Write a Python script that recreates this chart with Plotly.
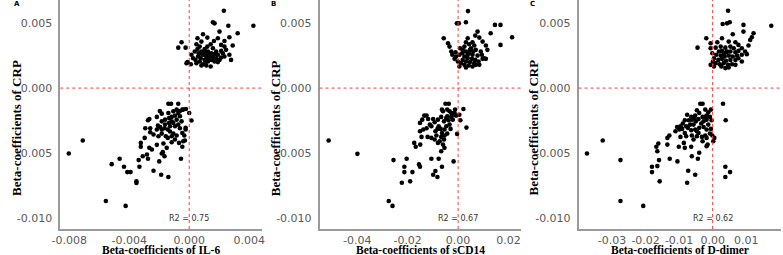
import plotly.graph_objects as go

# ---------------- data (beta coefficients: exposure, CRP) ----------------
il6_points = [
    (-0.00803, -0.00501), (-0.00710, -0.00402), (-0.00556, -0.00865), (-0.00424, -0.00903),
    (-0.00517, -0.00583), (-0.00464, -0.00542), (-0.00435, -0.00603), (-0.00413, -0.00644),
    (-0.00391, -0.00644), (-0.00352, -0.00715), (-0.00352, -0.00728), (-0.00337, -0.00552),
    (-0.00332, -0.00603), (-0.00310, -0.00522), (-0.00275, -0.00542), (-0.00238, -0.00634),
    (-0.00187, -0.00664), (-0.00139, -0.00682), (-0.00200, -0.00562), (-0.00176, -0.00491),
    (-0.00165, -0.00522), (-0.00055, -0.00542), (0.00015, -0.00249), (0.00000, -0.00191),
    (-0.00046, -0.00450), (-0.00029, -0.00402), (-0.00024, -0.00318), (-0.00139, -0.00120),
    (-0.00121, -0.00120), (-0.00073, -0.00120), (-0.00196, -0.00176), (-0.00183, -0.00196),
    (-0.00084, -0.00165), (-0.00062, -0.00176), (-0.00040, -0.00165), (-0.00022, -0.00160),
    (-0.00275, -0.00247), (-0.00266, -0.00237), (-0.00216, -0.00221), (-0.00139, -0.00191),
    (-0.00134, -0.00229), (-0.00117, -0.00221), (-0.00095, -0.00211), (-0.00117, -0.00255),
    (-0.00134, -0.00267), (-0.00161, -0.00242), (-0.00209, -0.00288), (-0.00194, -0.00298),
    (-0.00183, -0.00318), (-0.00165, -0.00308), (-0.00143, -0.00318), (-0.00128, -0.00333),
    (-0.00106, -0.00349), (-0.00084, -0.00364), (-0.00095, -0.00394), (-0.00117, -0.00369),
    (-0.00156, -0.00369), (-0.00183, -0.00349), (-0.00216, -0.00318), (-0.00260, -0.00308),
    (-0.00293, -0.00308), (-0.00260, -0.00338), (-0.00297, -0.00382), (-0.00323, -0.00420),
    (-0.00323, -0.00450), (-0.00266, -0.00458), (-0.00249, -0.00471), (-0.00216, -0.00435),
    (-0.00172, -0.00425), (-0.00117, -0.00415), (-0.00068, -0.00420), (-0.00040, -0.00407),
    (-0.00062, -0.00308), (-0.00073, -0.00280), (-0.00051, -0.00255), (-0.00024, -0.00305),
    (-0.00046, -0.00344), (-0.00033, -0.00364), (-0.00095, -0.00293), (-0.00084, -0.00242),
    (-0.00062, -0.00216), (-0.00161, -0.00280), (-0.00183, -0.00255), (-0.00238, -0.00356),
    (-0.00205, -0.00369), (-0.00282, -0.00509), (-0.00150, -0.00458), (-0.00183, -0.00501),
    (-0.00046, -0.00165), (-0.00106, -0.00178), (-0.00073, -0.00191), (-0.00143, -0.00382),
    (-0.00128, -0.00293), (-0.00106, -0.00267),
    (0.00231, 0.00593), (0.00158, 0.00504), (0.00169, 0.00496), (0.00261, 0.00478),
    (0.00428, 0.00478), (0.00202, 0.00433), (0.00323, 0.00420), (0.00268, 0.00389),
    (0.00092, 0.00412), (0.00121, 0.00387), (0.00055, 0.00382), (0.00191, 0.00382),
    (0.00235, 0.00361), (-0.00051, 0.00351), (-0.00073, 0.00310), (-0.00024, 0.00310),
    (0.00048, 0.00336), (0.00070, 0.00318), (0.00143, 0.00336), (0.00213, 0.00331),
    (0.00290, 0.00326), (0.00037, 0.00280), (0.00081, 0.00280), (0.00103, 0.00300),
    (0.00125, 0.00280), (0.00158, 0.00305), (0.00180, 0.00280), (0.00213, 0.00285),
    (0.00246, 0.00293), (0.00268, 0.00255), (0.00235, 0.00242), (0.00279, 0.00216),
    (0.00015, 0.00255), (0.00026, 0.00229), (0.00059, 0.00242), (0.00092, 0.00255),
    (0.00114, 0.00242), (0.00136, 0.00255), (0.00158, 0.00242), (0.00191, 0.00255),
    (0.00103, 0.00216), (0.00125, 0.00204), (0.00147, 0.00216), (0.00169, 0.00204),
    (0.00202, 0.00216), (0.00070, 0.00204), (0.00048, 0.00191), (0.00092, 0.00183),
    (0.00114, 0.00173), (0.00143, 0.00165), (0.00077, 0.00229), (-0.00018, 0.00191),
    (0.00011, 0.00183), (-0.00011, 0.00199), (0.00213, 0.00234), (0.00180, 0.00229),
    (0.00130, 0.00229), (0.00099, 0.00275), (0.00147, 0.00267), (0.00169, 0.00260),
    (0.00055, 0.00300), (0.00235, 0.00318), (0.00121, 0.00318), (0.00081, 0.00356),
    (0.00165, 0.00361), (0.00086, 0.00260), (0.00121, 0.00260), (0.00143, 0.00234),
    (0.00165, 0.00224), (0.00110, 0.00199), (0.00081, 0.00173), (0.00191, 0.00199),
    (0.00224, 0.00267), (0.00064, 0.00267), (0.00042, 0.00216),
]

scd14_points = [
    (-0.0513, -0.00402), (-0.0399, -0.00504), (-0.0275, -0.00865), (-0.0260, -0.00903),
    (-0.0256, -0.00552), (-0.0213, -0.00603), (-0.0213, -0.00644), (-0.0204, -0.00542),
    (-0.0181, -0.00644), (-0.0190, -0.00715), (-0.0223, -0.00725), (-0.0155, -0.00585),
    (-0.0151, -0.00603), (-0.0099, -0.00664), (-0.0082, -0.00682), (-0.0090, -0.00636),
    (-0.0064, -0.00603), (-0.0077, -0.00542), (-0.0106, -0.00542), (-0.0018, -0.00562),
    (-0.0054, -0.00458), (-0.0067, -0.00484), (-0.0043, -0.00349), (-0.0004, -0.00351),
    (0.0033, -0.00303), (0.0009, -0.00247), (0.0021, -0.00160), (-0.0050, -0.00120),
    (-0.0037, -0.00120), (-0.0174, -0.00420), (-0.0168, -0.00450), (-0.0150, -0.00433),
    (-0.0151, -0.00331), (-0.0134, -0.00211), (-0.0125, -0.00211), (-0.0142, -0.00242),
    (-0.0151, -0.00267), (-0.0119, -0.00237), (-0.0099, -0.00237), (-0.0106, -0.00293),
    (-0.0125, -0.00308), (-0.0112, -0.00280), (-0.0138, -0.00318), (-0.0145, -0.00374),
    (-0.0121, -0.00374), (-0.0106, -0.00382), (-0.0093, -0.00394), (-0.0090, -0.00331),
    (-0.0082, -0.00313), (-0.0077, -0.00293), (-0.0069, -0.00313), (-0.0064, -0.00344),
    (-0.0067, -0.00374), (-0.0073, -0.00407), (-0.0056, -0.00394), (-0.0060, -0.00433),
    (-0.0080, -0.00420), (-0.0080, -0.00242), (-0.0067, -0.00221), (-0.0056, -0.00255),
    (-0.0047, -0.00229), (-0.0060, -0.00178), (-0.0064, -0.00165), (-0.0043, -0.00165),
    (-0.0034, -0.00178), (-0.0027, -0.00191), (-0.0021, -0.00204), (-0.0014, -0.00191),
    (-0.0008, -0.00211), (-0.0027, -0.00221), (-0.0038, -0.00247), (-0.0021, -0.00242),
    (-0.0034, -0.00280), (-0.0047, -0.00293), (-0.0054, -0.00318), (-0.0030, -0.00313),
    (0.0005, -0.00204), (-0.0012, -0.00165), (-0.0093, -0.00262), (-0.0086, -0.00364),
    (-0.0054, -0.00364), (-0.0043, -0.00216),
    (0.0039, 0.00590), (-0.0005, 0.00496), (0.0003, 0.00496), (0.0031, 0.00504),
    (0.0146, 0.00484), (0.0168, 0.00484), (0.0214, 0.00389), (0.0129, 0.00420),
    (0.0168, 0.00331), (-0.0057, 0.00382), (-0.0040, 0.00344), (-0.0034, 0.00318),
    (-0.0027, 0.00280), (-0.0010, 0.00275), (0.0077, 0.00433), (0.0068, 0.00402),
    (0.0084, 0.00387), (0.0038, 0.00382), (0.0097, 0.00356), (0.0110, 0.00326),
    (0.0116, 0.00293), (0.0103, 0.00229), (0.0110, 0.00224), (0.0081, 0.00204),
    (0.0084, 0.00178), (0.0031, 0.00351), (0.0044, 0.00336), (0.0057, 0.00351),
    (0.0064, 0.00326), (0.0025, 0.00318), (0.0008, 0.00305), (0.0051, 0.00305),
    (0.0070, 0.00293), (0.0090, 0.00280), (0.0031, 0.00280), (0.0016, 0.00267),
    (0.0044, 0.00267), (0.0057, 0.00255), (0.0077, 0.00249), (0.0094, 0.00255),
    (-0.0008, 0.00242), (0.0005, 0.00255), (0.0025, 0.00242), (0.0038, 0.00229),
    (0.0055, 0.00224), (0.0068, 0.00216), (0.0018, 0.00216), (0.0031, 0.00204),
    (0.0047, 0.00199), (0.0064, 0.00191), (0.0012, 0.00191), (0.0025, 0.00178),
    (0.0042, 0.00173), (0.0057, 0.00165), (-0.0001, 0.00204), (-0.0014, 0.00224),
    (-0.0023, 0.00255), (0.0005, 0.00165), (0.0031, 0.00158), (0.0070, 0.00178),
    (0.0097, 0.00224), (0.0047, 0.00293), (0.0060, 0.00280), (0.0038, 0.00255),
    (0.0018, 0.00293),
]

ddimer_points = [
    (-0.0375, -0.00501), (-0.0328, -0.00402), (-0.0275, -0.00552), (-0.0275, -0.00865),
    (-0.0207, -0.00903), (-0.0181, -0.00603), (-0.0181, -0.00644), (-0.0165, -0.00598),
    (-0.0160, -0.00552), (-0.0158, -0.00715), (-0.0165, -0.00484), (-0.0168, -0.00450),
    (-0.0162, -0.00425), (-0.0128, -0.00542), (-0.0105, -0.00562), (-0.0073, -0.00634),
    (-0.0076, -0.00725), (-0.0052, -0.00664), (-0.0062, -0.00522), (-0.0044, -0.00542),
    (-0.0040, -0.00496), (-0.0135, -0.00382), (-0.0129, -0.00364), (-0.0135, -0.00433),
    (-0.0101, -0.00450), (-0.0083, -0.00458), (-0.0064, -0.00450), (-0.0018, -0.00445),
    (-0.0015, -0.00433), (-0.0001, -0.00364), (0.0002, -0.00407), (0.0005, -0.00382),
    (0.0031, -0.00120), (0.0039, -0.00247), (0.0038, -0.00603), (0.0038, -0.00682),
    (0.0052, -0.00644), (-0.0037, -0.00120), (-0.0030, -0.00120), (-0.0047, -0.00170),
    (-0.0022, -0.00165), (-0.0005, -0.00165), (-0.0013, -0.00186), (-0.0018, -0.00211),
    (-0.0040, -0.00191), (-0.0052, -0.00211), (-0.0030, -0.00221), (-0.0062, -0.00242),
    (-0.0076, -0.00204), (-0.0071, -0.00247), (-0.0083, -0.00247), (-0.0089, -0.00272),
    (-0.0096, -0.00293), (-0.0106, -0.00298), (-0.0099, -0.00318), (-0.0091, -0.00313),
    (-0.0079, -0.00293), (-0.0067, -0.00280), (-0.0057, -0.00280), (-0.0050, -0.00255),
    (-0.0042, -0.00237), (-0.0027, -0.00255), (-0.0018, -0.00242), (-0.0008, -0.00221),
    (-0.0003, -0.00247), (-0.0013, -0.00280), (-0.0027, -0.00298), (-0.0040, -0.00305),
    (-0.0052, -0.00318), (-0.0064, -0.00323), (-0.0074, -0.00305), (-0.0083, -0.00344),
    (-0.0096, -0.00374), (-0.0079, -0.00369), (-0.0062, -0.00364), (-0.0047, -0.00369),
    (-0.0032, -0.00374), (-0.0022, -0.00364), (-0.0008, -0.00349), (-0.0005, -0.00313),
    (-0.0018, -0.00318), (-0.0042, -0.00344), (-0.0057, -0.00394), (-0.0030, -0.00407),
    (-0.0018, -0.00382), (-0.0111, -0.00331), (-0.0086, -0.00420), (-0.0047, -0.00331),
    (-0.0034, -0.00272), (-0.0022, -0.00221), (-0.0054, -0.00229), (-0.0064, -0.00221),
    (0.0046, 0.00593), (0.0030, 0.00491), (0.0043, 0.00496), (0.0051, 0.00504),
    (0.0092, 0.00484), (0.0175, 0.00478), (0.0092, 0.00433), (0.0122, 0.00420),
    (0.0117, 0.00389), (0.0112, 0.00369), (0.0060, 0.00412), (-0.0019, 0.00382),
    (-0.0045, 0.00310), (-0.0006, 0.00344), (-0.0006, 0.00305), (0.0028, 0.00382),
    (0.0014, 0.00351), (0.0048, 0.00356), (0.0068, 0.00351), (0.0077, 0.00331),
    (0.0107, 0.00326), (0.0087, 0.00305), (0.0097, 0.00280), (0.0102, 0.00260),
    (0.0087, 0.00255), (0.0077, 0.00229), (0.0087, 0.00204), (0.0068, 0.00216),
    (0.0009, 0.00310), (0.0024, 0.00318), (0.0038, 0.00310), (0.0053, 0.00318),
    (0.0063, 0.00305), (0.0019, 0.00280), (0.0028, 0.00285), (0.0040, 0.00275),
    (0.0053, 0.00280), (0.0068, 0.00275), (0.0077, 0.00285), (-0.0001, 0.00267),
    (0.0011, 0.00255), (0.0024, 0.00249), (0.0036, 0.00242), (0.0048, 0.00249),
    (0.0060, 0.00242), (0.0073, 0.00249), (0.0004, 0.00229), (0.0017, 0.00216),
    (0.0028, 0.00224), (0.0040, 0.00209), (0.0053, 0.00216), (0.0009, 0.00191),
    (0.0021, 0.00183), (0.0033, 0.00191), (0.0046, 0.00178), (0.0058, 0.00183),
    (0.0068, 0.00178), (0.0001, 0.00204), (-0.0006, 0.00178), (0.0004, 0.00165),
    (0.0038, 0.00153), (0.0048, 0.00158), (0.0026, 0.00165), (0.0043, 0.00280),
    (0.0033, 0.00255),
]

exposures = ["IL-6", "sCD14", "D-dimer"]
r2_labels = ["R2 = 0.75", "R2 = 0.67", "R2 = 0.62"]
panel_letters = ["A", "B", "C"]

x_tickvals = [[-0.008, -0.004, 0.0, 0.004], [-0.04, -0.02, 0.0, 0.02],
              [-0.03, -0.02, -0.01, 0.0, 0.01]]
x_ticktext = [["-0.008", "-0.004", "0.000", "0.004"], ["-0.04", "-0.02", "0.00", "0.02"],
              ["-0.03", "-0.02", "-0.01", "0.00", "0.01"]]
x_ranges = [[-0.0086, 0.00488], [-0.0549, 0.0250], [-0.0400, 0.0204]]
y_tickvals = [-0.010, -0.005, 0.0, 0.005]
y_ticktext = ["-0.010", "-0.005", "0.000", "0.005"]
y_range = [-0.0108, 0.00675]

# ---------------- layout geometry ----------------
W, H = 783, 255
x_domains = [[52 / W, 257 / W], [315 / W, 519.5 / W], [577.7 / W, 1.0]]
y_domain = [26 / H, 1.0]
ytitle_x = [7 / W, 270 / W, 531 / W]
letter_x = [3 / W, 264 / W, 526 / W]

TICK_FONT = dict(family="DejaVu Sans", size=11, color="#5a5a5a")
AXIS_COLOR = "#9a9a9a"

fig = go.Figure()
all_points = [il6_points, scd14_points, ddimer_points]

for i, pts in enumerate(all_points):
    xs = [p[0] for p in pts]
    ys = [p[1] for p in pts]
    suffix = "" if i == 0 else str(i + 1)
    fig.add_trace(go.Scatter(
        x=xs, y=ys, mode="markers",
        marker=dict(color="black", size=4.6, line=dict(width=0)),
        xaxis="x" + suffix, yaxis="y" + suffix, showlegend=False,
        hoverinfo="skip",
    ))
    xa = dict(
        domain=x_domains[i], range=x_ranges[i], anchor="y" + suffix,
        tickvals=x_tickvals[i], ticktext=x_ticktext[i], tickfont=TICK_FONT,
        showgrid=False, zeroline=False, showline=True, linecolor=AXIS_COLOR, linewidth=1.5,
        ticks="",
    )
    ya = dict(
        domain=y_domain, range=y_range, anchor="x" + suffix,
        tickvals=y_tickvals, ticktext=y_ticktext, tickfont=TICK_FONT,
        showgrid=False, zeroline=False, showline=True, linecolor=AXIS_COLOR, linewidth=1.5,
        ticks="outside", ticklen=4, tickcolor="rgba(0,0,0,0)",
    )
    fig.layout["xaxis" + suffix] = xa
    fig.layout["yaxis" + suffix] = ya

    xref = "x" + suffix
    yref = "y" + suffix
    # dashed reference lines
    fig.add_shape(type="line", xref=xref, yref=yref + " domain", x0=0, x1=0, y0=0, y1=1,
                  line=dict(color="#ff3b3b", width=1, dash="3px,3px"))
    fig.add_shape(type="line", xref=xref + " domain", yref=yref, x0=0, x1=1, y0=0, y1=0,
                  line=dict(color="#ff3b3b", width=1, dash="3px,3px"))
    # R2 label
    fig.add_annotation(x=0, y=-0.010, xref=xref, yref=yref, text=r2_labels[i],
                       showarrow=False, font=dict(family="DejaVu Sans", size=8, color="#333333"))
    # x title
    xd = x_domains[i]
    fig.add_annotation(x=(xd[0] + xd[1]) / 2, y=1 - 250 / H, xref="paper", yref="paper",
                       text="<b>Beta-coefficients of " + exposures[i] + "</b>", showarrow=False,
                       font=dict(family="Liberation Serif", size=11.5, color="black"),
                       xanchor="center", yanchor="middle")
    # y title
    fig.add_annotation(x=ytitle_x[i], y=1 - 128 / H, xref="paper", yref="paper",
                       text="<b>Beta-coefficients of CRP</b>", textangle=-90, showarrow=False,
                       font=dict(family="Liberation Serif", size=13, color="black"),
                       xanchor="center", yanchor="middle")
    # panel letter
    fig.add_annotation(x=letter_x[i], y=1 - 4 / H, xref="paper", yref="paper",
                       text="<b>" + panel_letters[i] + "</b>", showarrow=False,
                       font=dict(family="DejaVu Sans", size=7, color="black"),
                       xanchor="left", yanchor="middle")

fig.update_layout(
    width=W, height=H, margin=dict(l=0, r=0, t=0, b=0),
    paper_bgcolor="white", plot_bgcolor="white",
)

fig.write_html(
    "out.html",
    config={"displayModeBar": False},
    post_script="document.body.style.margin='0';document.body.style.overflow='hidden';",
)
